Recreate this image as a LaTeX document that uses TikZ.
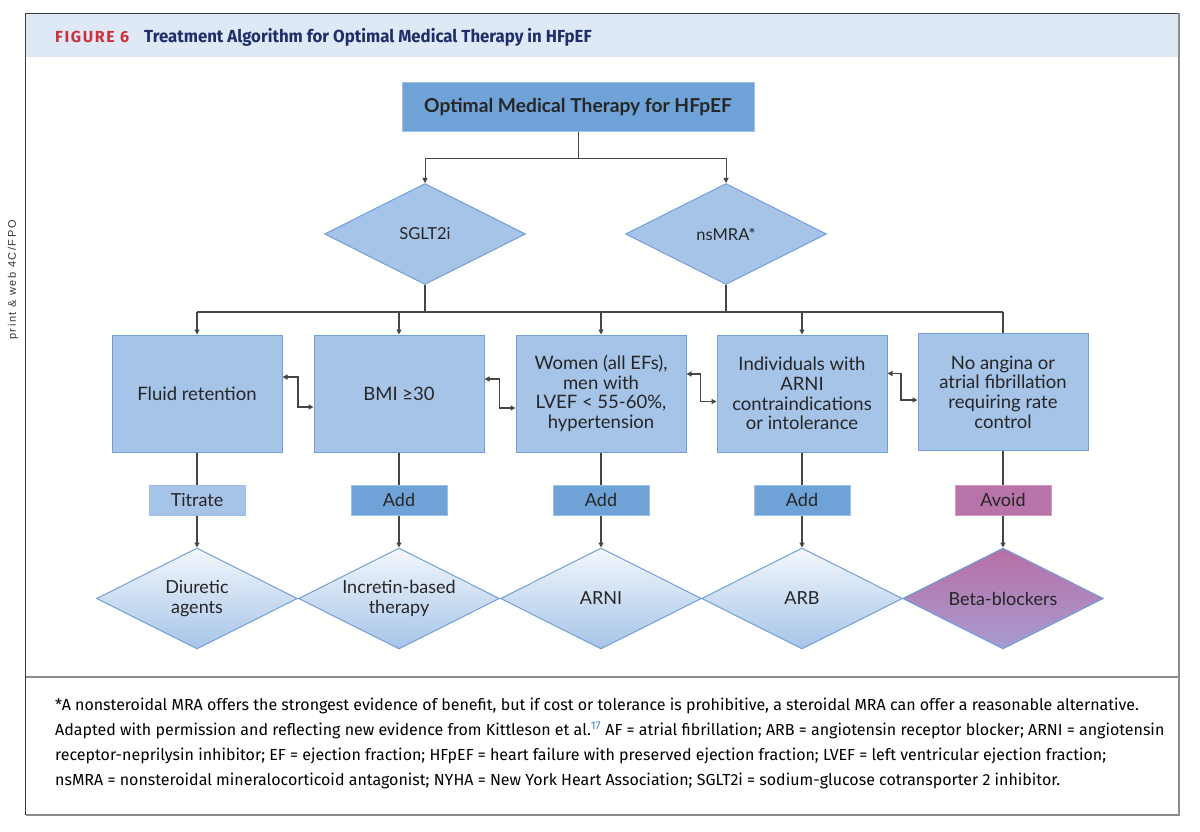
\documentclass[tikz,border=0pt]{standalone}
\usepackage{fontspec}
\setmainfont{Lato}
\newfontfamily\headfont{Fira Sans}
\newfontfamily\notefont{Fira Sans}
\newfontfamily\sidefont{Liberation Sans}
\usetikzlibrary{shapes.geometric,arrows.meta}
\definecolor{headfill}{HTML}{DFE9F5}
\definecolor{figred}{HTML}{C8323C}
\definecolor{navy}{HTML}{1F2D6B}
\definecolor{framedark}{HTML}{3A3A3A}
\definecolor{framegray}{HTML}{8C8C8C}
\definecolor{sidegray}{HTML}{333333}
\definecolor{midblue}{HTML}{6FA3D8}
\definecolor{paleedge}{HTML}{9DC0E6}
\definecolor{boxblue}{HTML}{A6C4E8}
\definecolor{boxedge}{HTML}{70A0D4}
\definecolor{drugtop}{HTML}{F3F7FC}
\definecolor{avoidfill}{HTML}{B873A8}
\definecolor{avoidtop}{HTML}{B670A6}
\definecolor{avoidbot}{HTML}{A79BD0}
\definecolor{wiregray}{HTML}{454545}
\definecolor{textgray}{HTML}{262626}
\definecolor{refblue}{HTML}{3C82CC}
\begin{document}
\begin{tikzpicture}[x=1pt,y=-1pt,>={Triangle[length=5pt,width=5pt]},
    headbox/.style={draw=paleedge,fill=midblue,line width=1pt,minimum width=352pt,minimum height=49pt,font=\bfseries\fontsize{19.2}{21}\selectfont,text=textgray},
    choice/.style={diamond,draw=boxedge,fill=boxblue,line width=1pt,minimum width=201pt,minimum height=101pt,inner sep=0pt,font=\fontsize{16.5}{19}\selectfont,text=textgray},
    crit/.style={rectangle,draw=boxedge,fill=boxblue,line width=1pt,minimum width=170pt,minimum height=117pt,align=center,font=\fontsize{18.5}{19.7}\selectfont,text=textgray},
    act/.style={rectangle,line width=1pt,minimum width=96pt,minimum height=30pt,inner sep=0pt,font=\fontsize{18}{20}\selectfont,text=textgray},
    drug/.style={diamond,shape aspect=2,draw=boxedge,line width=1pt,minimum width=201pt,minimum height=101pt,inner sep=-4pt,align=center,top color=drugtop,bottom color=boxblue,font=\fontsize{18}{20}\selectfont,text=textgray},
    wire/.style={draw=wiregray,line width=1.8pt},
    thinwire/.style={draw=wiregray,line width=1pt},
    note/.style={anchor=base west,inner sep=0pt,font=\notefont\fontsize{16}{18}\selectfont,text=black}]
    \useasboundingbox(0,0)rectangle(1200,832);
    \fill[headfill](25.5,13.5)rectangle(1179,57);
    \draw[framedark,line width=1.5pt](25.5,815)--(25.5,13.5)--(1179,13.5);
    \draw[framegray,line width=2pt](1179,13.5)--(1179,815)--(25.5,815);
    \draw[framegray,line width=2pt](25.5,677)--(1179,677);
    \node(fpo)at(13,280)[rotate=90,inner sep=0pt,font=\sidefont\fontsize{11}{13}\selectfont\addfontfeatures{LetterSpace=14},text=sidegray]{print \& web 4C/FPO};
    \node(fig)at(55,43)[anchor=base west,inner sep=0pt,font=\headfont\bfseries\fontsize{16}{18}\selectfont\addfontfeatures{LetterSpace=10},text=figred]{FIGURE 6};
    \node(figtitle)at(144,43)[anchor=base west,inner sep=0pt,font=\headfont\bfseries\fontsize{17.5}{19}\selectfont,text=navy]{\scalebox{0.96}[1]{Treatment Algorithm for Optimal Medical Therapy in HFpEF}};
    \node(title)at(578,107)[headbox]{Optimal Medical Therapy for HFpEF};
    \node(sglt)at(425,234)[choice]{SGLT2i};
    \node(nsmra)at(726,234)[choice]{nsMRA*};
    \node(fluid)at(197,393.5)[crit]{Fluid retention};
    \node(bmi)at(399,393.5)[crit]{BMI ≥30};
    \node(women)at(601,393.5)[crit]{Women (all EFs),\\men with\\LVEF < 55-60\%,\\hypertension};
    \node(arnici)at(802,393.5)[crit]{Individuals with\\ARNI\\contraindications\\or intolerance};
    \node(noangina)at(1003,392)[crit]{No angina or\\atrial fibrillation\\requiring rate\\control};
    \node(titrate)at(197,500)[act,fill=boxblue,draw=paleedge]{Titrate};
    \node(addbmi)at(399,500)[act,fill=midblue,draw=paleedge]{Add};
    \node(addwomen)at(601,500)[act,fill=midblue,draw=paleedge]{Add};
    \node(addarb)at(802,500)[act,fill=midblue,draw=paleedge]{Add};
    \node(avoid)at(1003,500)[act,fill=avoidfill,draw=avoidfill!70]{Avoid};
    \node(diuretic)at(197,598.5)[drug]{Diuretic\\agents};
    \node(incretin)at(399,598.5)[drug]{Incretin-based\\therapy};
    \node(arni)at(601,598.5)[drug]{ARNI};
    \node(arb)at(802,598.5)[drug]{ARB};
    \node(beta)at(1003,598.5)[drug,top color=avoidtop,bottom color=avoidbot]{Beta-blockers};
    \coordinate(split)at(578,158.5);
    \coordinate(busl)at(197,312);
    \coordinate(busr)at(1003,312);
    \coordinate(mid1)at(298,393);
    \coordinate(mid2)at(499.5,393);
    \coordinate(mid3)at(700.5,393);
    \coordinate(mid4)at(901,393);
    \draw[thinwire](title)--(split);
    \draw[thinwire,->](split)-|(sglt.north);
    \draw[thinwire,->](split)-|(nsmra.north);
    \draw[wire](sglt)--(sglt|-busl);
    \draw[wire](nsmra)--(nsmra|-busl);
    \draw[wire](busl)--(busr);
    \draw[wire,->](busl)--(fluid);
    \draw[wire,->](bmi|-busl)--(bmi);
    \draw[wire,->](women|-busl)--(women);
    \draw[wire,->](arnici|-busl)--(arnici);
    \draw[wire](busr)--(noangina);
    \draw[wire,<->]([yshift=16.5pt]fluid.east)-|(mid1)|-([yshift=-13.5pt]bmi.west);
    \draw[wire,<->]([yshift=14.5pt]bmi.east)-|(mid2)|-([yshift=-14.5pt]women.west);
    \draw[wire,<->]([yshift=19.5pt]women.east)-|(mid3)|-([yshift=-8pt]arnici.west);
    \draw[wire,<->]([yshift=20pt]arnici.east)-|(mid4)|-([yshift=-8pt]noangina.west);
    \draw[wire](fluid)--(titrate);
    \draw[wire](bmi)--(addbmi);
    \draw[wire](women)--(addwomen);
    \draw[wire](arnici)--(addarb);
    \draw[wire](noangina)--(avoid);
    \draw[wire,->](titrate)--(diuretic);
    \draw[wire,->](addbmi)--(incretin);
    \draw[wire,->](addwomen)--(arni);
    \draw[wire,->](addarb)--(arb);
    \draw[wire,->](avoid)--(beta);
    \node(note1)at(55,710.7)[note]{*A nonsteroidal MRA offers the strongest evidence of benefit, but if cost or tolerance is prohibitive, a steroidal MRA can offer a reasonable alternative.};
    \node(note2)at(55,735.7)[note]{Adapted with permission and reflecting new evidence from Kittleson et al.\textsuperscript{\color{refblue}17} AF = atrial fibrillation; ARB = angiotensin receptor blocker; ARNI = angiotensin};
    \node(note3)at(55,760.2)[note]{receptor-neprilysin inhibitor; EF = ejection fraction; HFpEF = heart failure with preserved ejection fraction; LVEF = left ventricular ejection fraction;};
    \node(note4)at(55,785)[note]{nsMRA = nonsteroidal mineralocorticoid antagonist; NYHA = New York Heart Association; SGLT2i = sodium-glucose cotransporter 2 inhibitor.};
\end{tikzpicture}
\end{document}
